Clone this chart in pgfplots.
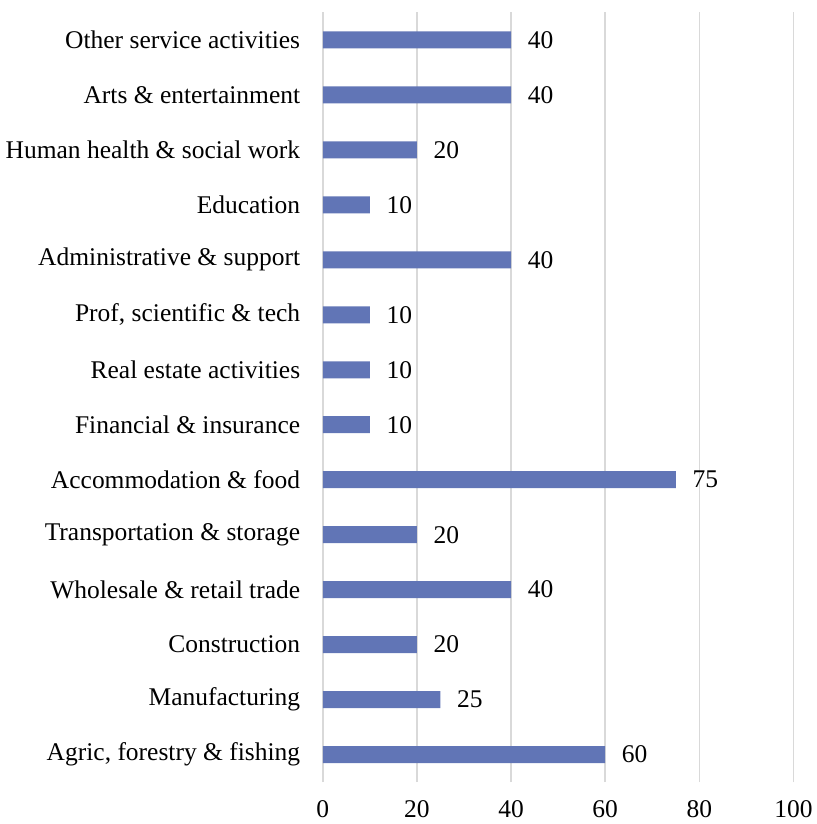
\documentclass[border=0pt]{standalone}
\usepackage{pgfplots}
\pgfplotsset{compat=1.18}
\usepackage{fontspec}
\setmainfont{Liberation Serif}
\definecolor{barblue}{HTML}{6175B6}
\definecolor{gridgray}{HTML}{D9D9D9}
\begin{document}
\fontsize{25.5}{30}\selectfont
\begin{tikzpicture}
\begin{axis}[
  at={(0,0)}, anchor=south west,
  scale only axis,
  width=471pt, height=770pt,
  xbar, bar width=17pt,
  xmin=0, xmax=100,
  ymin=-0.5, ymax=13.5,
  xtick={0,20,40,60,80,100},
  ytick={0,...,13},
  yticklabels={{Agric, forestry \& fishing}, Manufacturing, Construction, Wholesale \& retail trade, Transportation \& storage, Accommodation \& food, Financial \& insurance, Real estate activities, {Prof, scientific \& tech}, Administrative \& support, Education, Human health \& social work, Arts \& entertainment, Other service activities},
  major tick length=0pt,
  tick style={draw=none},
  axis line style={draw=none},
  xmajorgrids, major grid style={gridgray, line width=1.6pt},
  /pgf/number format/assume math mode=true,
  tick label style={font=\fontsize{25.5}{30}\selectfont},
  xticklabel style={yshift=-10pt},
  yticklabel style={xshift=-14pt, anchor=east},
  nodes near coords,
  every node near coord/.append style={anchor=west, xshift=8pt, font=\fontsize{25.5}{30}\selectfont, text=black},
]
\addplot[fill=barblue, draw=none] coordinates {
  (60,0) (25,1) (20,2) (40,3) (20,4) (75,5) (10,6) (10,7) (10,8) (40,9) (10,10) (20,11) (40,12) (40,13)
};
\end{axis}
\pgfresetboundingbox
\path[use as bounding box] (-323pt,-42pt) rectangle (494pt,782.5pt);
\end{tikzpicture}
\end{document}
